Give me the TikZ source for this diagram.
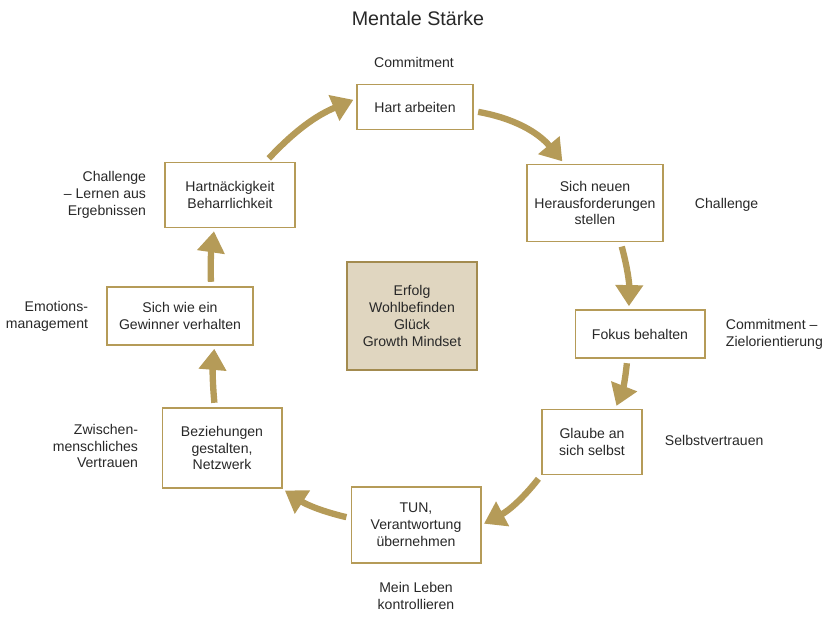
\documentclass[tikz,border=0pt]{standalone}
\usepackage{fontspec}
\setmainfont{Liberation Sans}
\usetikzlibrary{arrows.meta}
\definecolor{gold}{RGB}{181,155,88}
\definecolor{sand}{RGB}{224,214,192}
\definecolor{txt}{RGB}{40,40,40}

\begin{document}
\begin{tikzpicture}[x=0.025cm,y=-0.025cm,font=\fontsize{10}{12}\selectfont,text=txt,
  box/.style={draw=gold,line width=1.4pt,fill=white,align=center,inner sep=2pt},
  note/.style={align=center},
  flow/.style={gold,line width=4.5pt,-{Triangle[length=15pt,width=19pt]},shorten <=3pt,shorten >=2pt}]
\useasboundingbox (0,0) rectangle (825,617);
\node[font=\fontsize{14}{16}\selectfont] (title) at (418,18) {Mentale Stärke};
\node[box,minimum width=2.9cm,minimum height=1.125cm] (hart) at (415,107) {Hart arbeiten};
\node[box,minimum width=3.4cm,minimum height=1.925cm] (neu) at (595,203) {Sich neuen\\Herausforderungen\\stellen};
\node[box,minimum width=3.225cm,minimum height=1.2cm] (fokus) at (640,334) {Fokus behalten};
\node[box,minimum width=2.5cm,minimum height=1.625cm] (glaube) at (592,442) {Glaube an\\sich selbst};
\node[box,minimum width=3.225cm,minimum height=1.9cm] (tun) at (416,525) {TUN,\\Verantwortung\\übernehmen};
\node[box,minimum width=2.975cm,minimum height=2.0cm] (bez) at (222,448) {Beziehungen\\gestalten,\\Netzwerk};
\node[box,minimum width=3.625cm,minimum height=1.45cm] (gewinner) at (180,316) {Sich wie ein\\Gewinner verhalten};
\node[box,minimum width=3.25cm,minimum height=1.625cm] (hartn) at (230,195) {Hartnäckigkeit\\Beharrlichkeit};
\node[box,fill=sand,draw=gold!90!black,minimum width=3.25cm,minimum height=2.7cm] (mitte) at (412,316) {Erfolg\\Wohlbefinden\\Glück\\Growth Mindset};
\node[note] (n1) at (414,62) {Commitment};
\node[note,anchor=west] (n2) at (690,205) {Challenge};
\node[note,anchor=west,align=left] (n3) at (721,334) {Commitment –\\Zielorientierung};
\node[note,anchor=west] (n4) at (660,440) {Selbstvertrauen};
\node[note] (n5) at (416,596) {Mein Leben\\kontrollieren};
\node[note,anchor=east,align=right] (n6) at (143,446) {Zwischen-\\menschliches\\Vertrauen};
\node[note,anchor=east,align=right] (n7) at (93,316) {Emotions-\\management};
\node[note,anchor=east,align=right] (n8) at (151,195) {Challenge\\– Lernen aus\\Ergebnissen};
\draw[flow] (hart.-4) to[bend left=20] (neu.128);
\draw[flow] (neu.-57) to[bend left=8] (fokus.114);
\draw[flow] (fokus.-117) to[bend left=8] (glaube.55);
\draw[flow] (glaube.south west) to[bend left=12] (tun.east);
\draw[flow] (tun.174) to[bend left=10] (bez.south east);
\draw[flow] (bez.100) to[bend left=5] (gewinner.-41);
\draw[flow] (gewinner.44) to[bend left=5] (hartn.-115);
\draw[flow] (hartn.43) to[bend left=12] (hart.172);
\end{tikzpicture}
\end{document}
